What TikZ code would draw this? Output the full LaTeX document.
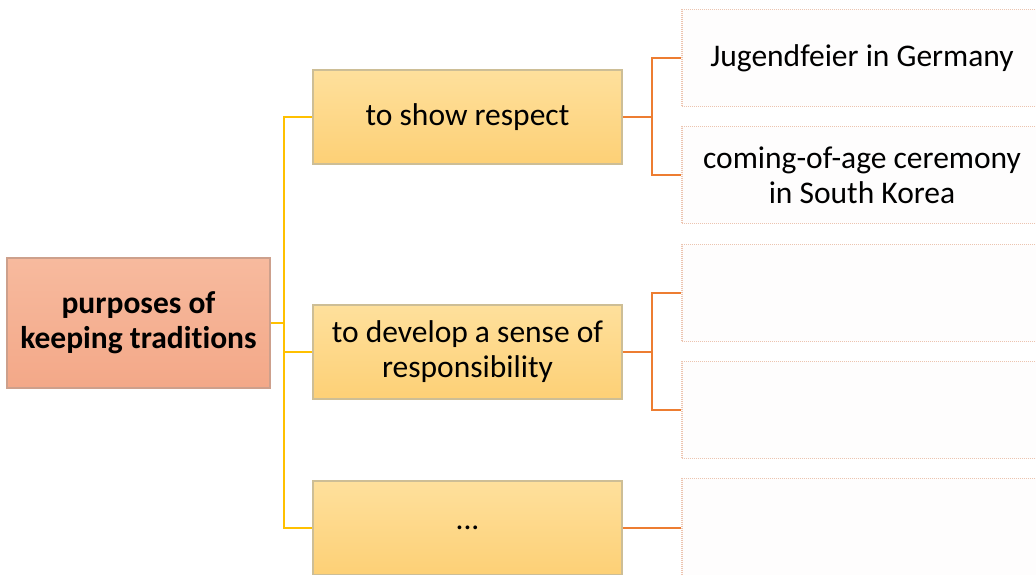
\documentclass[tikz,border=0pt]{standalone}
\usepackage{fontspec}
\setmainfont{Carlito}[Ligatures=NoCommon]
\usetikzlibrary{positioning}
\definecolor{roottop}{RGB}{247,186,158}
\definecolor{rootbot}{RGB}{243,168,136}
\definecolor{rootedge}{RGB}{205,160,140}
\definecolor{midtop}{RGB}{254,224,156}
\definecolor{midbot}{RGB}{253,208,118}
\definecolor{midedge}{RGB}{205,190,150}
\definecolor{leafedge}{RGB}{236,196,176}
\definecolor{trunkcol}{RGB}{255,192,0}
\definecolor{twigcol}{RGB}{237,125,49}
\tikzset{
  rootbox/.style={draw=rootedge, line width=1.5pt, top color=roottop, bottom color=rootbot,
                  minimum width=263pt, minimum height=130pt, inner sep=0pt, align=center,
                  font=\fontsize{31.5}{35}\selectfont\bfseries},
  midbox/.style={draw=midedge, line width=1.5pt, top color=midtop, bottom color=midbot,
                 minimum width=309pt, minimum height=94pt, inner sep=0pt, align=center,
                 font=\fontsize{31.5}{35}\selectfont},
  leafbox/.style={draw=leafedge, dash pattern=on 1pt off 1pt, line width=1.5pt,
                  fill=white!97!leafedge, minimum width=360pt, minimum height=97pt,
                  inner sep=0pt, align=center, font=\fontsize{31.5}{35}\selectfont},
  trunk/.style={draw=trunkcol, line width=2pt},
  twig/.style={draw=twigcol, line width=2pt}
}

\begin{document}
\begin{tikzpicture}[x=1pt, y=-1pt]
  \clip (0,0) rectangle (1036,574);
  \fill[white] (0,0) rectangle (1036,574);
  % main topic
  \node[rootbox] (root) at (138.5,323) {purposes of\\keeping traditions};
  % purposes
  \node[midbox] (resp) at (467.5,117) {to show respect};
  \node[midbox] (duty) at (467.5,352) {to develop a sense of\\responsibility};
  \node[midbox] (more) at (467.5,528) {...};
  % examples
  \node[leafbox] (jfeier) at (862,58) {Jugendfeier in Germany};
  \node[leafbox] (korea) at (862,175) {coming-of-age ceremony\\in South Korea};
  \node[leafbox] (blanka) at (862,293) {};
  \node[leafbox] (blankb) at (862,410) {};
  \node[leafbox] (blankc) at (862,527) {};
  % connectors
  \coordinate (jroot) at (284,323);
  \coordinate (jresp) at (652,117);
  \coordinate (jduty) at (652,352);
  \draw[trunk] (root.east) -- (jroot) |- (resp.west);
  \draw[trunk] (jroot) |- (duty.west);
  \draw[trunk] (jroot) |- (more.west);
  \draw[twig] (resp.east) -- (jresp) |- (jfeier.west);
  \draw[twig] (jresp) |- (korea.west);
  \draw[twig] (duty.east) -- (jduty) |- (blanka.west);
  \draw[twig] (jduty) |- (blankb.west);
  \draw[twig] (more.east) -- (blankc.west |- more.east);
\end{tikzpicture}
\end{document}
